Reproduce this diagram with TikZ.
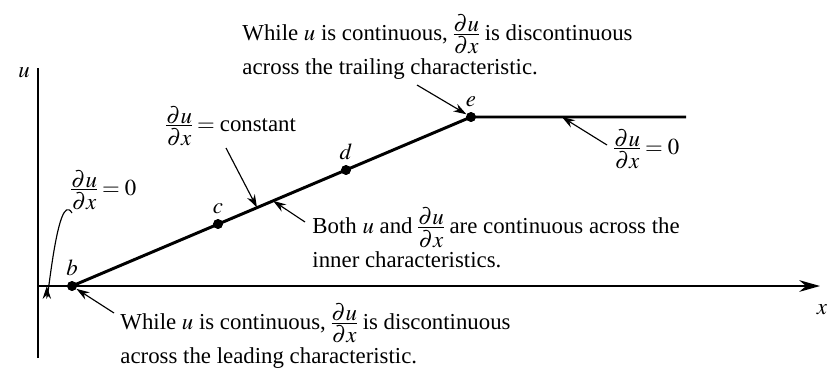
\documentclass[tikz,border=0pt]{standalone}
\usepackage{amsmath}
\usepackage{mathptmx}
\usepackage[no-math]{fontspec}
\setmainfont{Liberation Serif}
\usetikzlibrary{arrows.meta,positioning,calc}
\newcommand{\dudx}{\mathord{\vcenter{\offinterlineskip\halign{\hfil##\hfil\cr
  $\partial u$\cr\noalign{\kern0.7pt\hrule\kern0.9pt}$\partial x$\cr}}}}

\begin{document}
\begin{tikzpicture}[x=0.0154cm, y=-0.0154cm, every node/.style={font=\fontsize{10}{15}\selectfont},
    dot/.style={circle, fill=black, inner sep=0pt, minimum size=1.5mm},
    ptlabel/.style={above=0.4mm of #1, inner sep=1pt},
    note/.style={align=left, inner sep=0pt, anchor=west},
    pointer/.style={-{Stealth[length=2mm, width=1.3mm]}, line width=0.5pt},
    axis/.style={line width=0.8pt},
    charline/.style={line width=1.3pt}]
    \useasboundingbox (0,0) rectangle (830,372);
    % axes
    \coordinate (origin) at (38,286);
    \coordinate (xend) at (820,286);
    \coordinate (utop) at (38,68);
    \coordinate (ubot) at (38,358);
    \draw[axis] (ubot) -- (utop);
    \draw[axis, -{Stealth[length=3.2mm, width=1.8mm]}] (origin) -- (xend);
    \node (ulabel) at (24,73) {$u$};
    \node (xlabel) at (822,310) {$x$};
    % characteristics
    \node[dot] (b) at (72,286) {};
    \node[dot] (c) at (218,224) {};
    \node[dot] (d) at (346,170) {};
    \node[dot] (e) at (471,117) {};
    \coordinate (far) at (686,117);
    \draw[charline] (b.center) -- (e.center) -- (far);
    \node[dot] at (b) {};
    \node[dot] at (c) {};
    \node[dot] at (d) {};
    \node[dot] at (e) {};
    \node[ptlabel=b] (blabel) {$b$};
    \node[ptlabel=c] (clabel) {$c$};
    \node[ptlabel=d] (dlabel) {$d$};
    \node[ptlabel=e] (elabel) {$e$};
    % notes
    \node[note] (trailing) at (242,47) {While $u$ is continuous, $\dudx$ is discontinuous\\across the trailing characteristic.};
    \node[note] (leading) at (120,336) {While $u$ is continuous, $\dudx$ is discontinuous\\across the leading characteristic.};
    \node[note] (inner) at (312,238) {Both $u$ and $\dudx$ are continuous across the\\inner characteristics.};
    \node[note] (const) at (166,126) {$\dudx = \text{constant}$};
    \node[note] (zeroleft) at (71,190) {$\dudx = 0$};
    \node[note] (zeroright) at (614,149) {$\dudx = 0$};
    % pointers
    \coordinate (trailfrom) at (417,85);
    \coordinate (leadfrom) at (114,313);
    \coordinate (innerfrom) at (305,222);
    \coordinate (innerto) at ($(b.center)!0.504!(e.center)$);
    \coordinate (constfrom) at (226,148);
    \coordinate (constto) at ($(b.center)!0.4637!(e.center)$);
    \coordinate (zrfrom) at (607,145);
    \coordinate (zrto) at ($(e.center)!0.423!(far)$);
    \coordinate (zlfrom) at (72,213);
    \coordinate (zlto) at ($(origin)!0.26!(b.center)$);
    \draw[pointer] (trailfrom) -- (e);
    \draw[pointer] (leadfrom) -- (b);
    \draw[pointer] (innerfrom) -- (innerto);
    \draw[pointer] (constfrom) -- (constto);
    \draw[pointer] (zrfrom) -- (zrto);
    \draw[pointer] (zlfrom) to[out=120, in=-90] (zlto);
\end{tikzpicture}
\end{document}
